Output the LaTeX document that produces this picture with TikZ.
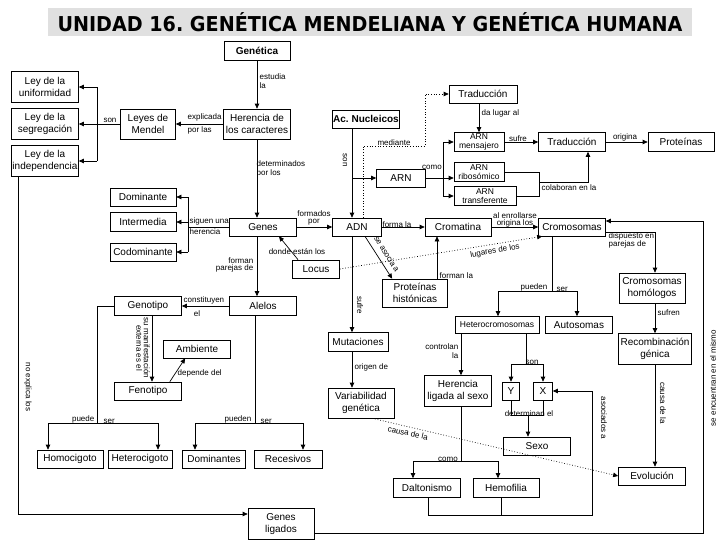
\documentclass[tikz,border=0pt]{standalone}
\usepackage{fontspec}
\usepackage{graphicx}
\setmainfont{Liberation Sans}
\newfontfamily\titlefont{DejaVu Sans}
\usetikzlibrary{arrows.meta,calc}
\frenchspacing
\begin{document}
\begin{tikzpicture}[x=1pt,y=-1pt,
 bx/.style 2 args={draw,line width=0.7pt,minimum width=#1pt,minimum height=#2pt,inner sep=0pt,align=center,font=\fontsize{10}{11.5}\selectfont},
 sm/.style={font=\fontsize{8.5}{9}\selectfont},
 lbl/.style={font=\fontsize{8}{8.5}\selectfont,inner sep=0.5pt,align=center},
 ln/.style={line width=0.7pt},
 arr/.style={ln,-{Triangle[length=5pt,width=4.5pt]}},
 dotarr/.style={line width=0.7pt,dotted,-{Triangle[length=5pt,width=4.5pt]}}]
\fill[white] (0,0) rectangle (728,546);
\useasboundingbox (0,0) rectangle (728,546);
% title
\node[fill=black!12,minimum width=644pt,minimum height=28pt,inner sep=0pt] (title) at (370,22)
 {\resizebox{625pt}{19pt}{\titlefont\bfseries UNIDAD 16. GENÉTICA MENDELIANA Y GENÉTICA HUMANA}};
% nodes
\node[bx={66}{19},font=\fontsize{10}{11}\selectfont\bfseries] (Genetica) at (257,51) {Genética};
\node[bx={67}{30}] (Herencia) at (257,124) {Herencia de\\los caracteres};
\node[bx={55}{30}] (Leyes) at (148,124) {Leyes de\\Mendel};
\node[bx={67}{31}] (LeyU) at (45,87) {Ley de la\\uniformidad};
\node[bx={67}{31}] (LeyS) at (45,124) {Ley de la\\segregación};
\node[bx={67}{31}] (LeyI) at (45,161) {Ley de la\\independencia};
\node[bx={66}{18}] (Dominante) at (143,197) {Dominante};
\node[bx={66}{19}] (Intermedia) at (143,222) {Intermedia};
\node[bx={66}{18}] (Codominante) at (143,252) {Codominante};
\node[bx={67}{18}] (Genes) at (263,227) {Genes};
\node[bx={47}{18}] (Locus) at (316,269) {Locus};
\node[bx={67}{19}] (Alelos) at (263,306) {Alelos};
\node[bx={67}{19}] (Genotipo) at (148,306) {Genotipo};
\node[bx={67}{18}] (Ambiente) at (197,349) {Ambiente};
\node[bx={67}{18}] (Fenotipo) at (148,391) {Fenotipo};
\node[bx={66}{18}] (Homocigoto) at (70,459) {Homocigoto};
\node[bx={64}{18}] (Heterocigoto) at (140,459) {Heterocigoto};
\node[bx={63}{18}] (Dominantes) at (214,459) {Dominantes};
\node[bx={68}{18}] (Recesivos) at (288,459) {Recesivos};
\node[bx={67}{18},font=\fontsize{10}{11}\selectfont\bfseries] (AcN) at (366,119) {Ac. Nucleicos};
\node[bx={49}{18}] (ADN) at (357,227) {ADN};
\node[bx={68}{18}] (TradTop) at (483,94) {Traducción};
\node[bx={50}{19},sm] (ARNm) at (479,142) {ARN\\mensajero};
\node[bx={50}{19},sm] (ARNr) at (479,172) {ARN\\ribosómico};
\node[bx={62}{19},sm] (ARNt) at (485,196) {ARN\\transferente};
\node[bx={49}{18}] (ARN) at (401,178) {ARN};
\node[bx={67}{19}] (TradMid) at (572,142) {Traducción};
\node[bx={66}{19}] (Proteinas) at (681,142) {Proteínas};
\node[bx={66}{18}] (Cromatina) at (458,227) {Cromatina};
\node[bx={67}{18}] (Cromosomas) at (572,227) {Cromosomas};
\node[bx={65}{28}] (ProtH) at (415,293) {Proteínas\\histónicas};
\node[bx={66}{30}] (CromH) at (652,288) {Cromosomas\\homólogos};
\node[bx={73}{31}] (Recomb) at (655,349) {Recombinación\\génica};
\node[bx={67}{18}] (Evolucion) at (652,476) {Evolución};
\node[bx={84}{17},sm] (Hetero) at (497,325) {Heterocromosomas};
\node[bx={67}{17}] (Autosomas) at (579,325) {Autosomas};
\node[bx={60}{19}] (Mutaciones) at (358,342) {Mutaciones};
\node[bx={66}{30}] (Variab) at (361,403) {Variabilidad\\genética};
\node[bx={67}{31}] (HerLig) at (458,391) {Herencia\\ligada al sexo};
\node[bx={17}{18}] (Y) at (511,391) {Y};
\node[bx={19}{18}] (X) at (543,391) {X};
\node[bx={67}{18}] (Sexo) at (537,446) {Sexo};
\node[bx={67}{19}] (Dalton) at (427,488) {Daltonismo};
\node[bx={66}{19}] (Hemof) at (506,488) {Hemofilia};
\node[bx={66}{31}] (GenLig) at (281,524) {Genes\\ligados};
% coordinates
\coordinate (sx) at (97,124);
\coordinate (gb) at (188,227);
\coordinate (gt) at (97,423);
\coordinate (hb1) at (48,423);
\coordinate (hb2) at (158,423);
\coordinate (al) at (255,423);
\coordinate (ab1) at (195,423);
\coordinate (ab2) at (303,423);
\coordinate (acx) at (352,178);
\coordinate (d1) at (363,146);
\coordinate (d2) at (425,146);
\coordinate (ab) at (443,178);
\coordinate (cb) at (539,182);
\coordinate (cc) at (588,182);
\coordinate (pc) at (437,260);
\coordinate (cr) at (552,291);
\coordinate (cr1) at (498,291);
\coordinate (cr2) at (577,291);
\coordinate (ch) at (655,232);
\coordinate (hl) at (461,360);
\coordinate (yx) at (526,364);
\coordinate (sq) at (528,415);
\coordinate (dh) at (461,461);
\coordinate (dh1) at (413,461);
\coordinate (dh2) at (498,461);
\coordinate (lp) at (592,515);
\coordinate (lp1) at (428,515);
\coordinate (lp2) at (501,515);
\coordinate (ll) at (18,514);
\coordinate (rl) at (703,533);
\coordinate (rl2) at (703,221);
% connectors
\draw[arr] (Genetica.south) -- (Genetica.south |- Herencia.north);
\draw[arr] (Herencia.west) -- (Leyes.east);
\draw[ln] (Leyes.west) -- (sx);
\draw[ln] (sx |- LeyU) -- (sx |- LeyI);
\draw[arr] (sx |- LeyU) -- (LeyU.east);
\draw[arr] (sx) -- (LeyS.east);
\draw[arr] (sx |- LeyI) -- (LeyI.east);
\draw[arr] (Herencia.south) -- (Herencia.south |- Genes.north);
\draw[ln] (Genes.west) -- (gb);
\draw[ln] (gb |- Dominante) -- (gb |- Codominante);
\draw[arr] (gb |- Dominante) -- (Dominante.east);
\draw[arr] (gb |- Intermedia) -- (Intermedia.east);
\draw[arr] (gb |- Codominante) -- (Codominante.east);
\draw[arr] (Genes.east) -- (ADN.west);
\draw[arr] ($(Locus.north)+(-18,0)$) -- ($(Genes.south)+(16,0)$);
\draw[arr] (Herencia.south |- Genes.south) -- (Herencia.south |- Alelos.north);
\draw[arr] (Alelos.west) -- (Genotipo.east);
\draw[ln] (Genotipo.west) -- (gt |- Genotipo) -- (gt);
\draw[ln] (hb1) -- (hb2);
\draw[arr] (hb1) -- (hb1 |- Homocigoto.north);
\draw[arr] (hb2) -- (hb2 |- Heterocigoto.north);
\draw[ln] (al |- Alelos.south) -- (al);
\draw[ln] (ab1) -- (ab2);
\draw[arr] (ab1) -- (ab1 |- Dominantes.north);
\draw[arr] (ab2) -- (ab2 |- Recesivos.north);
\draw[arr] ($(Genotipo.south)+(4,0)$) -- ($(Fenotipo.north)+(4,0)$);
\draw[arr] ($(Fenotipo.north east)+(-12,0)$) -- ($(Ambiente.south west)+(22,0)$);
\draw[arr] (AcN.south -| acx) -- (ADN.north -| acx);
\draw[arr] (acx) -- (ARN.west |- acx);
\draw[dotarr] (ADN.north -| d1) -- (d1) -- (d2) -- (d2 |- TradTop) -- (TradTop.west);
\draw[arr] (ARNm.north |- TradTop.south) -- (ARNm.north);
\draw[ln] (ARN.east) -- (ab);
\draw[ln] (ab |- ARNm) -- (ab |- ARNt);
\draw[arr] (ab |- ARNm) -- (ARNm.west);
\draw[arr] (ab) -- (ARNr.west |- ab);
\draw[arr] (ab |- ARNt) -- (ARNt.west);
\draw[arr] (ARNm.east) -- (TradMid.west);
\draw[arr] (TradMid.east) -- (Proteinas.west);
\draw[ln] (ARNr.east) -- (ARNr.east -| cb) -- (ARNt.east -| cb) -- (ARNt.east);
\draw[arr] (cb) -- (cc) -- (cc |- TradMid.south);
\draw[arr] (ADN.east) -- (Cromatina.west);
\draw[arr] (Cromatina.east) -- (Cromosomas.west);
\draw[arr] ($(ADN.south)+(8,0)$) -- ($(ProtH.north west)+(10,0)$);
\draw[arr] (ProtH.north -| pc) -- (Cromatina.south -| pc);
\draw[dotarr] (Locus.east) -- ($(Cromosomas.south west)+(4,0)$);
\draw[arr] (ADN.south -| acx) -- (Mutaciones.north -| acx);
\draw[arr] (Mutaciones.south -| acx) -- (Variab.north -| acx);
\draw[dotarr] ($(Variab.south east)+(-22,0)$) -- (Evolucion.west);
\draw[ln] (Cromosomas.south -| cr) -- (cr);
\draw[ln] (cr1) -- (cr2);
\draw[arr] (cr1) -- (cr1 |- Hetero.north);
\draw[arr] (cr2) -- (cr2 |- Autosomas.north);
\draw[arr] (Cromosomas.east |- ch) -- (ch) -- (ch |- CromH.north);
\draw[arr] (CromH.south -| ch) -- (Recomb.north -| ch);
\draw[arr] (Recomb.south -| ch) -- (Evolucion.north -| ch);
\draw[arr] (Hetero.south -| hl) -- (HerLig.north -| hl);
\draw[ln] (Hetero.south -| yx) -- (yx);
\draw[ln] (Y.north |- yx) -- (X.north |- yx);
\draw[arr] (Y.north |- yx) -- (Y.north);
\draw[arr] (X.north |- yx) -- (X.north);
\draw[ln] (Y.south) -- (Y.south |- sq) -- (X.south |- sq) -- (X.south);
\draw[arr] (sq) -- (sq |- Sexo.north);
\draw[ln] (HerLig.south -| dh) -- (dh);
\draw[ln] (dh1) -- (dh2);
\draw[arr] (dh1) -- (dh1 |- Dalton.north);
\draw[arr] (dh2) -- (dh2 |- Hemof.north);
\draw[arr] (lp1 |- Dalton.south) -- (lp1) -- (lp) -- (lp |- X.east) -- (X.east);
\draw[ln] (lp2 |- Hemof.south) -- (lp2);
\draw[arr] (ll |- LeyI.south) -- (ll) -- (GenLig.west |- ll);
\draw[arr] (GenLig.east |- rl) -- (rl) -- (rl2) -- (Cromosomas.east |- rl2);
% labels
\node[lbl,anchor=west,align=left] (l1) at (259,81) {estudia\\la};
\node[lbl,anchor=south west] (l2) at (187,122) {explicada};
\node[lbl,anchor=north west] (l2b) at (187,126) {por las};
\node[lbl,anchor=south] (l3) at (110,123) {son};
\node[lbl,anchor=west,align=left] (l4) at (256,169) {determinados\\por los};
\node[lbl,anchor=south west] (l5) at (189,226) {siguen una};
\node[lbl,anchor=north west] (l6) at (189,228) {herencia};
\node[lbl,anchor=south,font=\fontsize{8}{7}\selectfont] (l7) at (314,226) {formados\\por};
\node[lbl] (l8) at (297,252) {donde están los};
\node[lbl,anchor=east,align=right,font=\fontsize{8}{7}\selectfont] (l9) at (254,265) {forman\\parejas de};
\node[lbl,anchor=south west] (l10) at (183,305) {constituyen};
\node[lbl] (l11) at (197,314) {el};
\node[lbl,rotate=-90,font=\fontsize{8}{7.5}\selectfont] (l12) at (143,348) {su manifestación\\externa es el};
\node[lbl,anchor=west] (l13) at (177,373) {depende del};
\node[lbl,anchor=south east] (l14) at (95,424) {puede};
\node[lbl,anchor=south west] (l15) at (103,424) {ser};
\node[lbl,anchor=south east] (l16) at (252,424) {pueden};
\node[lbl,anchor=south west] (l17) at (260,424) {ser};
\node[lbl,rotate=-90] (l18) at (28,387) {no explica los};
\node[lbl,rotate=-90] (l19) at (345,160) {son};
\node[lbl,anchor=south] (l20) at (394,146) {mediante};
\node[lbl,anchor=west] (l21) at (481,113) {da lugar al};
\node[lbl] (l22) at (432,167) {como};
\node[lbl,anchor=south] (l23) at (518,142) {sufre};
\node[lbl,anchor=south] (l24) at (625,142) {origina};
\node[lbl,anchor=north west] (l25) at (541,184) {colaboran en la};
\node[lbl,anchor=south] (l26) at (397,228) {forma la};
\node[lbl,font=\fontsize{8}{7}\selectfont] (l27) at (515,220) {al enrollarse\\origina los};
\node[lbl,rotate=-58] (l28) at (387,254) {se asocia a};
\node[lbl,anchor=west] (l29) at (439,276) {forman la};
\node[lbl,rotate=10] (l30) at (495,251) {lugares de los};
\node[lbl,rotate=-90] (l31) at (360,305) {sufre};
\node[lbl,anchor=west] (l32) at (354,367) {origen de};
\node[lbl,rotate=-13] (l33) at (408,433) {causa de la};
\node[lbl,anchor=south east] (l34) at (548,292) {pueden};
\node[lbl,anchor=south west] (l35) at (556,292) {ser};
\node[lbl,anchor=north west,align=left,font=\fontsize{8}{7}\selectfont] (l36) at (608,232) {dispuesto en\\parejas de};
\node[lbl,anchor=west] (l37) at (657,313) {sufren};
\node[lbl,rotate=-90] (l38) at (663,403) {causa de la};
\node[lbl,rotate=90] (l39) at (713,378) {se encuentran en el mismo};
\node[lbl,anchor=east,align=right] (l40) at (459,351) {controlan\\la};
\node[lbl,anchor=south] (l41) at (532,365) {son};
\node[lbl] (l42) at (529,414) {determinan el};
\node[lbl,rotate=-90] (l43) at (604,418) {asociados a};
\node[lbl,anchor=south] (l44) at (448,462) {como};
\end{tikzpicture}
\end{document}
